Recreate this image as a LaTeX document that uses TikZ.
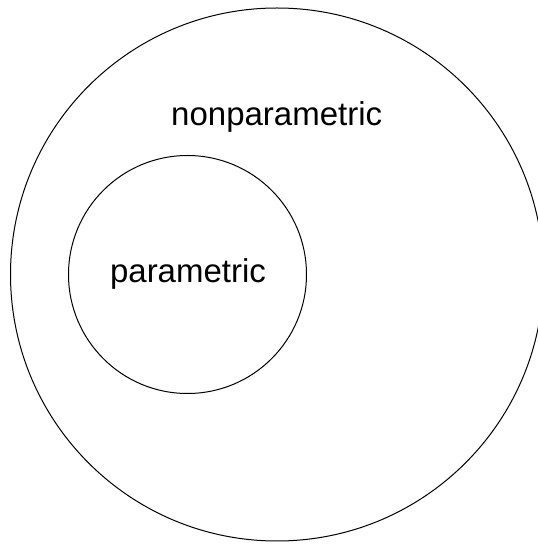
\documentclass[tikz,border=0pt]{standalone}
\usepackage{fontspec}
\setmainfont{Liberation Sans}
\tikzset{
  ring/.style={circle, draw=black, line width=1pt, inner sep=0pt},
  lbl/.style={font=\fontsize{33}{40}\selectfont, anchor=base, inner sep=0pt}
}
\begin{document}
\begin{tikzpicture}[x=1pt,y=1pt]
  \clip (0,0) rectangle (538,544);
  \node[ring, minimum size=533pt] (outer) at (277,269.5) {};
  \node[ring, minimum size=238pt] (inner) at (187.5,269.5) {};
  \node[lbl] (nonpar) at (276.7,418) {nonparametric};
  \node[lbl] (par) at (188,261) {parametric};
\end{tikzpicture}
\end{document}
